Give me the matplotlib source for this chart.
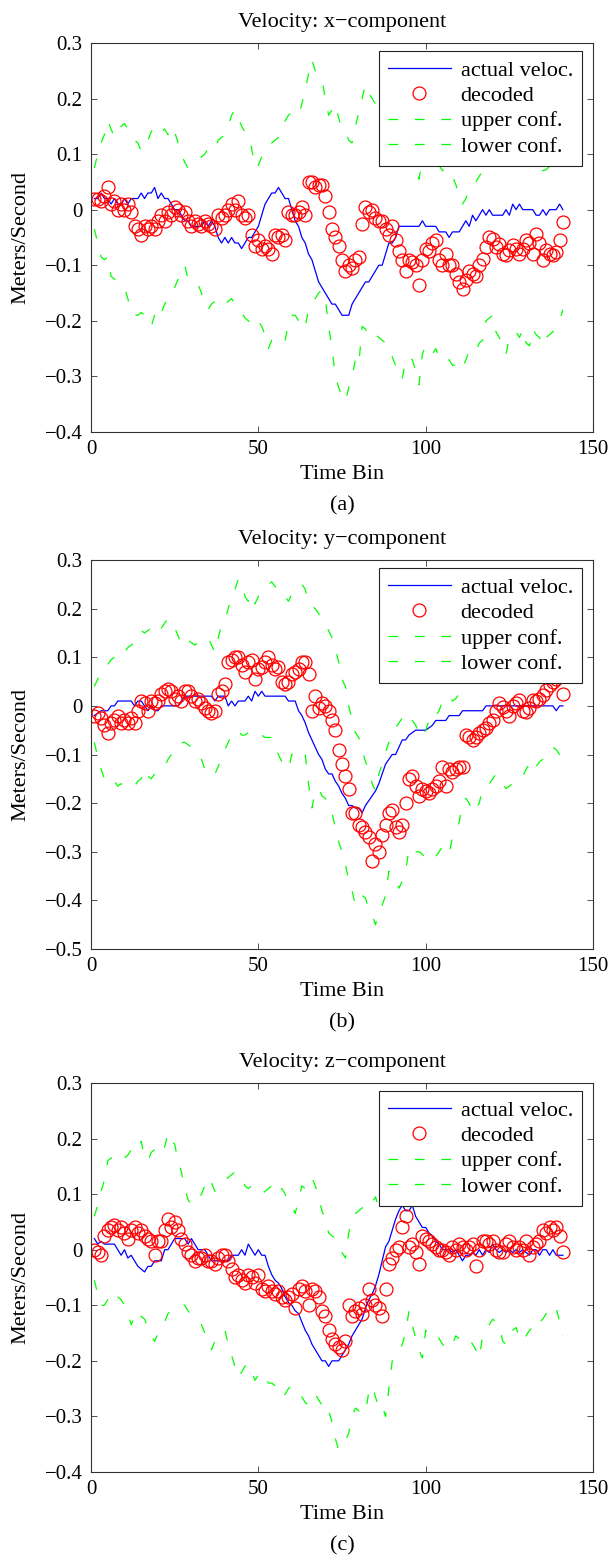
import numpy as np
import matplotlib
matplotlib.use("Agg")
import matplotlib.pyplot as plt
from matplotlib.ticker import FuncFormatter

plt.rcParams['font.family'] = ['Liberation Serif', 'DejaVu Serif']
plt.rcParams['lines.scale_dashes'] = False

# ---- data (time bins 1..141) ----
actual_x = [0.02, 0.02, 0.03, 0.02, 0.02, 0.01, 0.02, 0.01, 0.01, 0.02,
            0.01, 0.02, 0.02, 0.02, 0.03, 0.02, 0.03, 0.03, 0.04, 0.02,
            0.03, 0.02, 0.02, 0.01, 0.0, 0.0, -0.01, -0.02, -0.02, -0.03,
            -0.03, -0.03, -0.03, -0.02, -0.03, -0.02, -0.03, -0.05, -0.06, -0.05,
            -0.06, -0.05, -0.06, -0.06, -0.07, -0.06, -0.05, -0.05, -0.04, -0.03,
            -0.01, 0.01, 0.02, 0.03, 0.03, 0.04, 0.03, 0.02, 0.02, 0.0,
            -0.02, -0.03, -0.05, -0.06, -0.08, -0.09, -0.11, -0.13, -0.14, -0.15,
            -0.16, -0.17, -0.17, -0.18, -0.19, -0.19, -0.19, -0.17, -0.16, -0.15,
            -0.14, -0.13, -0.13, -0.12, -0.11, -0.10, -0.10, -0.08, -0.06, -0.06,
            -0.05, -0.03, -0.03, -0.03, -0.03, -0.03, -0.03, -0.03, -0.02, -0.03,
            -0.03, -0.03, -0.03, -0.04, -0.04, -0.04, -0.05, -0.04, -0.04, -0.04,
            -0.03, -0.02, -0.03, -0.01, -0.02, -0.01, 0.0, -0.01, 0.0, -0.01,
            -0.01, -0.01, -0.01, 0.0, -0.01, 0.01, 0.0, 0.01, 0.0, 0.0,
            0.0, 0.0, -0.01, -0.01, 0.0, -0.01, 0.0, 0.0, 0.0, 0.01,
            0.0]
decoded_x = [0.02, 0.02, 0.015, 0.025, 0.04, 0.01, 0.015, 0.0, 0.01, 0.0,
             0.01, -0.005, -0.03, -0.035, -0.045, -0.03, -0.035, -0.03, -0.035, -0.02,
             -0.01, -0.02, -0.005, -0.01, 0.005, 0.0, -0.01, -0.005, -0.02, -0.03,
             -0.02, -0.025, -0.03, -0.02, -0.025, -0.03, -0.035, -0.01, -0.015, -0.01,
             0.0, 0.01, 0.0, 0.015, -0.01, -0.015, -0.01, -0.045, -0.065, -0.055,
             -0.07, -0.065, -0.07, -0.08, -0.045, -0.05, -0.045, -0.055, -0.005, -0.01,
             -0.01, -0.005, 0.005, -0.01, 0.05, 0.05, 0.04, 0.045, 0.045, 0.025,
             -0.005, -0.035, -0.05, -0.065, -0.09, -0.11, -0.1, -0.105, -0.09, -0.085,
             -0.025, 0.005, -0.005, 0.0, -0.015, -0.02, -0.02, -0.035, -0.045, -0.03,
             -0.055, -0.075, -0.09, -0.11, -0.09, -0.095, -0.1, -0.135, -0.09, -0.07,
             -0.075, -0.06, -0.055, -0.09, -0.1, -0.08, -0.1, -0.1, -0.115, -0.13,
             -0.142, -0.127, -0.11, -0.115, -0.12, -0.1, -0.088, -0.067, -0.05, -0.052,
             -0.067, -0.061, -0.08, -0.082, -0.073, -0.064, -0.07, -0.08, -0.07, -0.055,
             -0.06, -0.08, -0.043, -0.06, -0.09, -0.073, -0.08, -0.082, -0.076, -0.055,
             -0.022]
upper_x = [0.075, 0.1, 0.12, 0.135, 0.16, 0.145, 0.13, 0.14, 0.15, 0.155,
           0.145, 0.13, 0.125, 0.12, 0.105, 0.11, 0.125, 0.14, 0.15, 0.15,
           0.14, 0.145, 0.135, 0.15, 0.14, 0.12, 0.1, 0.085, 0.075, 0.08,
           0.085, 0.09, 0.095, 0.1, 0.11, 0.105, 0.11, 0.125, 0.13, 0.135,
           0.15, 0.17, 0.18, 0.165, 0.15, 0.14, 0.135, 0.11, 0.075, 0.08,
           0.095, 0.105, 0.11, 0.12, 0.125, 0.13, 0.14, 0.16, 0.17, 0.175,
           0.17, 0.17, 0.19, 0.215, 0.245, 0.27, 0.25, 0.24, 0.235, 0.2,
           0.17, 0.18, 0.19, 0.165, 0.145, 0.14, 0.125, 0.12, 0.15, 0.175,
           0.2, 0.225, 0.21, 0.2, 0.19, 0.2, 0.18, 0.17, 0.15, 0.14,
           0.13, 0.12, 0.11, 0.1, 0.09, 0.085, 0.07, 0.055, 0.09, 0.1,
           0.11, 0.1, 0.09, 0.08, 0.07, 0.075, 0.065, 0.06, 0.045, 0.025,
           0.01, 0.02, 0.035, 0.045, 0.05, 0.06, 0.07, 0.075, 0.09, 0.1,
           0.11, 0.12, 0.11, 0.12, 0.12, 0.13, 0.12, 0.11, 0.12, 0.1,
           0.11, 0.09, 0.085, 0.078, 0.07, 0.072, 0.078, 0.08, 0.085, 0.09,
           0.11]
lower_x = [-0.035, -0.06, -0.085, -0.09, -0.085, -0.12, -0.125, -0.13, -0.135, -0.14,
           -0.16, -0.185, -0.19, -0.19, -0.185, -0.19, -0.2, -0.21, -0.19, -0.175,
           -0.185, -0.17, -0.16, -0.15, -0.14, -0.125, -0.115, -0.1, -0.125, -0.13,
           -0.13, -0.135, -0.15, -0.17, -0.18, -0.17, -0.165, -0.16, -0.16, -0.17,
           -0.165, -0.16, -0.17, -0.18, -0.185, -0.195, -0.2, -0.205, -0.21, -0.2,
           -0.21, -0.225, -0.25, -0.235, -0.23, -0.235, -0.24, -0.235, -0.205, -0.19,
           -0.19, -0.2, -0.195, -0.21, -0.18, -0.165, -0.16, -0.15, -0.145, -0.16,
           -0.21, -0.25, -0.3, -0.32, -0.335, -0.345, -0.32, -0.3, -0.27, -0.28,
           -0.21, -0.215, -0.23, -0.225, -0.225, -0.23, -0.235, -0.24, -0.245, -0.265,
           -0.28, -0.3, -0.305, -0.27, -0.265, -0.27, -0.29, -0.315, -0.26, -0.245,
           -0.25, -0.26, -0.25, -0.265, -0.27, -0.275, -0.27, -0.28, -0.28, -0.29,
           -0.285, -0.27, -0.255, -0.25, -0.255, -0.24, -0.235, -0.2, -0.195, -0.19,
           -0.22, -0.23, -0.25, -0.26, -0.23, -0.225, -0.22, -0.23, -0.215, -0.24,
           -0.245, -0.215, -0.225, -0.23, -0.245, -0.23, -0.225, -0.22, -0.21, -0.2,
           -0.18]

actual_y = [-0.02, -0.015, -0.01, -0.01, -0.01, 0.0, 0.0, 0.01, 0.01, 0.01,
            0.01, 0.01, 0.0, 0.01, 0.01, 0.0, -0.01, 0.0, -0.01, -0.01,
            0.0, 0.0, 0.0, 0.0, 0.0, 0.0, 0.01, 0.02, 0.02, 0.02,
            0.02, 0.02, 0.02, 0.02, 0.02, 0.02, 0.01, 0.02, 0.02, 0.02,
            0.0, 0.01, 0.0, 0.01, 0.01, 0.01, 0.02, 0.01, 0.03, 0.02,
            0.03, 0.02, 0.02, 0.02, 0.02, 0.02, 0.02, 0.02, 0.01, 0.01,
            0.01, -0.01, -0.02, -0.035, -0.055, -0.07, -0.085, -0.1, -0.11, -0.13,
            -0.14, -0.14, -0.155, -0.165, -0.18, -0.19, -0.205, -0.205, -0.21, -0.21,
            -0.22, -0.205, -0.195, -0.185, -0.175, -0.16, -0.14, -0.12, -0.11, -0.1,
            -0.1, -0.085, -0.07, -0.07, -0.06, -0.055, -0.05, -0.05, -0.05, -0.05,
            -0.045, -0.04, -0.03, -0.03, -0.03, -0.03, -0.02, -0.02, -0.02, -0.02,
            -0.01, -0.01, -0.01, -0.01, -0.01, -0.01, -0.01, 0.0, 0.0, 0.0,
            0.0, 0.0, 0.0, 0.0, 0.0, 0.0, 0.0, 0.0, 0.0, 0.0,
            0.0, 0.0, 0.0, 0.0, 0.0, 0.0, 0.0, 0.0, -0.01, 0.0,
            0.0]
decoded_y = [-0.02, -0.015, -0.025, -0.04, -0.055, -0.035, -0.03, -0.02, -0.035, -0.03,
             -0.035, -0.025, -0.035, -0.01, 0.01, 0.005, -0.01, 0.01, 0.005, 0.01,
             0.025, 0.03, 0.035, 0.03, 0.015, 0.02, 0.01, 0.03, 0.03, 0.02,
             0.01, 0.015, 0.005, -0.005, -0.01, -0.015, -0.01, 0.025, 0.03, 0.045,
             0.09, 0.095, 0.1, 0.1, 0.085, 0.07, 0.09, 0.095, 0.055, 0.075,
             0.08, 0.09, 0.1, 0.085, 0.075, 0.08, 0.05, 0.045, 0.05, 0.065,
             0.07, 0.075, 0.09, 0.09, 0.065, -0.01, 0.02, -0.005, 0.005, 0.0,
             -0.01, -0.03, -0.05, -0.09, -0.12, -0.145, -0.17, -0.22, -0.22, -0.245,
             -0.25, -0.26, -0.27, -0.32, -0.285, -0.3, -0.265, -0.245, -0.22, -0.215,
             -0.25, -0.26, -0.245, -0.2, -0.15, -0.145, -0.165, -0.185, -0.17, -0.175,
             -0.18, -0.17, -0.165, -0.155, -0.125, -0.165, -0.13, -0.135, -0.13, -0.125,
             -0.125, -0.06, -0.065, -0.07, -0.065, -0.055, -0.05, -0.045, -0.035, -0.03,
             -0.01, 0.005, -0.002, -0.01, -0.02, 0.0, 0.005, 0.012, -0.01, -0.012,
             -0.005, 0.012, 0.01, 0.015, 0.022, 0.032, 0.042, 0.05, 0.055, 0.063,
             0.025]
upper_y = [0.04, 0.055, 0.07, 0.08, 0.085, 0.095, 0.1, 0.095, 0.1, 0.11,
           0.12, 0.125, 0.13, 0.145, 0.155, 0.15, 0.155, 0.16, 0.16, 0.15,
           0.16, 0.17, 0.18, 0.17, 0.16, 0.145, 0.125, 0.125, 0.135, 0.13,
           0.125, 0.13, 0.13, 0.135, 0.14, 0.125, 0.11, 0.14, 0.165, 0.175,
           0.2, 0.225, 0.24, 0.26, 0.255, 0.225, 0.215, 0.23, 0.21, 0.225,
           0.235, 0.24, 0.25, 0.255, 0.245, 0.245, 0.23, 0.225, 0.215, 0.23,
           0.235, 0.245, 0.25, 0.24, 0.21, 0.205, 0.2, 0.19, 0.175, 0.165,
           0.155, 0.14, 0.12, 0.09, 0.055, 0.04, 0.0, -0.03, -0.055, -0.065,
           -0.09, -0.115, -0.13, -0.16, -0.175, -0.14, -0.12, -0.095, -0.075, -0.06,
           -0.045, -0.035, -0.025, -0.02, -0.015, -0.03, -0.04, -0.055, -0.065, -0.05,
           -0.03, -0.035, -0.02, -0.01, 0.01, 0.015, 0.02, 0.01, 0.015, 0.025,
           0.04, 0.06, 0.07, 0.08, 0.085, 0.09, 0.1, 0.1, 0.11, 0.12,
           0.13, 0.13, 0.13, 0.12, 0.13, 0.14, 0.14, 0.14, 0.13, 0.13,
           0.14, 0.15, 0.15, 0.16, 0.16, 0.17, 0.17, 0.18, 0.18, 0.19,
           0.16]
lower_y = [-0.075, -0.105, -0.13, -0.15, -0.16, -0.155, -0.155, -0.165, -0.16, -0.165,
           -0.17, -0.17, -0.165, -0.155, -0.15, -0.13, -0.145, -0.15, -0.14, -0.135,
           -0.13, -0.125, -0.11, -0.1, -0.09, -0.08, -0.075, -0.075, -0.08, -0.085,
           -0.09, -0.1, -0.11, -0.13, -0.14, -0.145, -0.14, -0.125, -0.105, -0.09,
           -0.075, -0.06, -0.055, -0.05, -0.06, -0.06, -0.055, -0.06, -0.065, -0.06,
           -0.06, -0.065, -0.065, -0.065, -0.085, -0.1, -0.115, -0.125, -0.13, -0.1,
           -0.095, -0.09, -0.09, -0.1, -0.16, -0.21, -0.175, -0.17, -0.185, -0.19,
           -0.2, -0.22, -0.25, -0.28, -0.3, -0.325, -0.36, -0.38, -0.41, -0.4,
           -0.39, -0.395, -0.42, -0.43, -0.45, -0.425, -0.41, -0.39, -0.34, -0.35,
           -0.36, -0.375, -0.36, -0.34, -0.295, -0.305, -0.3, -0.3, -0.305, -0.315,
           -0.31, -0.315, -0.31, -0.3, -0.29, -0.3, -0.305, -0.27, -0.255, -0.24,
           -0.2, -0.19, -0.2, -0.22, -0.21, -0.2, -0.17, -0.165, -0.16, -0.15,
           -0.14, -0.15, -0.16, -0.17, -0.165, -0.16, -0.16, -0.15, -0.145, -0.13,
           -0.12, -0.135, -0.125, -0.115, -0.11, -0.095, -0.09, -0.085, -0.09, -0.1,
           -0.105]

actual_z = [0.02, 0.01, 0.015, 0.01, 0.01, 0.01, 0.01, 0.0, -0.01, 0.0,
            -0.015, -0.01, -0.02, -0.03, -0.035, -0.04, -0.03, -0.03, -0.02, -0.02,
            -0.02, 0.0, 0.0, 0.01, 0.02, 0.02, 0.02, 0.02, 0.01, 0.02,
            0.01, 0.0, 0.0, 0.0, -0.01, -0.02, -0.02, -0.02, -0.02, -0.02,
            -0.02, -0.01, -0.01, -0.01, 0.0, -0.01, 0.01, 0.0, -0.01, 0.0,
            -0.01, -0.01, -0.03, -0.045, -0.055, -0.06, -0.07, -0.085, -0.095, -0.1,
            -0.11, -0.115, -0.13, -0.145, -0.155, -0.17, -0.18, -0.19, -0.2, -0.2,
            -0.21, -0.2, -0.2, -0.2, -0.19, -0.18, -0.17, -0.155, -0.145, -0.135,
            -0.125, -0.105, -0.09, -0.08, -0.065, -0.045, -0.02, 0.005, 0.015, 0.035,
            0.055, 0.07, 0.08, 0.07, 0.07, 0.08, 0.06, 0.05, 0.04, 0.04,
            0.03, 0.025, 0.015, 0.01, 0.0, 0.0, 0.0, -0.005, 0.0, -0.01,
            -0.02, -0.01, -0.01, -0.005, -0.01, 0.0, -0.01, 0.0, -0.005, 0.01,
            0.0, -0.005, 0.0, -0.005, 0.0, -0.005, 0.0, -0.005, 0.0, -0.005,
            -0.01, 0.0, 0.0, -0.01, 0.0, 0.0, -0.01, 0.0, -0.01, -0.01,
            -0.01]
decoded_z = [0.0, -0.005, -0.01, 0.025, 0.035, 0.04, 0.045, 0.035, 0.04, 0.03,
             0.02, 0.035, 0.04, 0.03, 0.035, 0.025, 0.02, 0.015, -0.01, 0.015,
             0.015, 0.035, 0.055, 0.04, 0.05, 0.035, 0.02, 0.01, -0.005, -0.01,
             -0.02, -0.015, -0.015, -0.01, -0.02, -0.02, -0.025, -0.015, -0.01, -0.01,
             -0.02, -0.035, -0.05, -0.045, -0.055, -0.06, -0.045, -0.05, -0.06, -0.045,
             -0.07, -0.075, -0.065, -0.075, -0.08, -0.075, -0.085, -0.09, -0.085, -0.08,
             -0.105, -0.07, -0.065, -0.075, -0.1, -0.07, -0.075, -0.085, -0.11, -0.12,
             -0.145, -0.16, -0.17, -0.175, -0.18, -0.165, -0.1, -0.12, -0.11, -0.105,
             -0.115, -0.1, -0.07, -0.09, -0.1, -0.105, -0.12, -0.07, -0.025, -0.015,
             0.0, 0.005, 0.04, 0.06, 0.005, 0.01, -0.005, -0.025, 0.025, 0.02,
             0.015, 0.01, 0.005, 0.0, 0.0, -0.005, -0.01, 0.005, 0.0, 0.01,
             0.005, 0.0, 0.005, 0.01, -0.03, 0.0, 0.015, 0.015, 0.01, 0.015,
             0.0, -0.005, -0.005, 0.01, 0.015, 0.005, 0.0, 0.005, 0.0, 0.015,
             -0.01, 0.005, 0.01, 0.015, 0.035, 0.03, 0.04, 0.035, 0.04, 0.025,
             -0.005]
upper_z = [0.06, 0.08, 0.105, 0.125, 0.16, 0.165, 0.16, 0.165, 0.17, 0.165,
           0.17, 0.18, 0.175, 0.185, 0.195, 0.165, 0.16, 0.175, 0.18, 0.17,
           0.18, 0.185, 0.21, 0.195, 0.19, 0.16, 0.14, 0.11, 0.09, 0.08,
           0.085, 0.09, 0.1, 0.115, 0.13, 0.12, 0.105, 0.11, 0.12, 0.125,
           0.13, 0.135, 0.14, 0.135, 0.13, 0.115, 0.11, 0.115, 0.11, 0.105,
           0.1, 0.105, 0.11, 0.115, 0.105, 0.1, 0.11, 0.1, 0.085, 0.08,
           0.065, 0.09, 0.115, 0.11, 0.125, 0.13, 0.115, 0.095, 0.07, 0.055,
           0.03, 0.025, 0.02, 0.005, -0.005, -0.015, 0.03, 0.055, 0.065, 0.07,
           0.075, 0.08, 0.09, 0.085, 0.095, 0.075, 0.07, 0.09, 0.11, 0.13,
           0.15, 0.16, 0.17, 0.18, 0.2, 0.19, 0.17, 0.16, 0.15, 0.14,
           0.14, 0.13, 0.13, 0.14, 0.13, 0.12, 0.13, 0.12, 0.13, 0.12,
           0.12, 0.13, 0.12, 0.13, 0.12, 0.13, 0.14, 0.13, 0.14, 0.13,
           0.13, 0.12, 0.13, 0.14, 0.13, 0.12, 0.13, 0.14, 0.13, 0.12,
           0.13, 0.14, 0.14, 0.15, 0.16, 0.15, 0.16, 0.17, 0.17, 0.16,
           0.14]
lower_z = [-0.055, -0.08, -0.1, -0.1, -0.09, -0.085, -0.075, -0.085, -0.09, -0.1,
           -0.115, -0.135, -0.12, -0.11, -0.12, -0.125, -0.14, -0.155, -0.165, -0.15,
           -0.14, -0.13, -0.115, -0.11, -0.105, -0.105, -0.1, -0.1, -0.11, -0.12,
           -0.125, -0.13, -0.135, -0.15, -0.16, -0.18, -0.165, -0.155, -0.15, -0.145,
           -0.17, -0.19, -0.21, -0.23, -0.22, -0.21, -0.205, -0.22, -0.235, -0.225,
           -0.22, -0.23, -0.24, -0.24, -0.245, -0.25, -0.265, -0.26, -0.25, -0.245,
           -0.255, -0.26, -0.265, -0.275, -0.28, -0.27, -0.26, -0.27, -0.28, -0.275,
           -0.29, -0.31, -0.34, -0.36, -0.35, -0.345, -0.33, -0.3, -0.285, -0.29,
           -0.29, -0.295, -0.255, -0.245, -0.265, -0.285, -0.28, -0.3, -0.25, -0.2,
           -0.195, -0.185, -0.17, -0.15, -0.11, -0.135, -0.16, -0.18, -0.195, -0.145,
           -0.15, -0.145, -0.155, -0.16, -0.17, -0.175, -0.18, -0.17, -0.155, -0.16,
           -0.16, -0.155, -0.16, -0.17, -0.18, -0.195, -0.155, -0.14, -0.135, -0.125,
           -0.13, -0.135, -0.165, -0.17, -0.165, -0.145, -0.14, -0.16, -0.165, -0.155,
           -0.145, -0.14, -0.145, -0.13, -0.125, -0.115, -0.105, -0.1, -0.105, -0.13,
           -0.155]

components = ["x", "y", "z"]
y_bottoms = [-0.4, -0.5, -0.4]
captions = ["(a)", "(b)", "(c)"]
series = [(actual_x, decoded_x, upper_x, lower_x),
          (actual_y, decoded_y, upper_y, lower_y),
          (actual_z, decoded_z, upper_z, lower_z)]


def tick_label(v, pos):
    if abs(v) < 1e-9:
        return "0"
    return ("%.1f" % v).replace("-", "\u2212")


fig = plt.figure(figsize=(6.10, 15.56), dpi=100)
bottoms = [0.7224, 0.3901, 0.0540]

for i in range(3):
    actual, decoded, upper, lower = series[i]
    ax = fig.add_axes([0.1492, bottoms[i], 0.823, 0.25])

    ax.plot(np.arange(1, len(actual) + 1), actual, color=(0, 0, 1), lw=0.9,
            label="actual veloc.")
    ax.plot(np.arange(1, len(decoded) + 1), decoded, "o", mfc="none", mec=(1, 0, 0),
            ms=9.3, mew=0.9, label="decoded")
    ax.plot(np.arange(1, len(upper) + 1), upper, color=(0, 1, 0), lw=0.9,
            dashes=(7, 12), label="upper conf.")
    ax.plot(np.arange(1, len(lower) + 1), lower, color=(0, 1, 0), lw=0.9,
            dashes=(7, 12), label="lower conf.")

    ax.set_xlim(0, 150)
    ax.set_ylim(y_bottoms[i], 0.3)
    ax.set_xticks([0, 50, 100, 150])
    ax.set_yticks(np.round(np.arange(y_bottoms[i], 0.31, 0.1), 1))
    ax.yaxis.set_major_formatter(FuncFormatter(tick_label))
    ax.tick_params(direction="in", length=4, width=0.6, top=True, right=True,
                   labelsize=15, color="#333333")
    ax.tick_params(axis="x", pad=6)
    ax.tick_params(axis="y", pad=6)
    for s in ax.spines.values():
        s.set_linewidth(0.8)
        s.set_color("#333333")

    ax.set_title("Velocity: %s\u2212component" % components[i], fontsize=16, pad=11.5)
    ax.set_xlabel("Time Bin", fontsize=16)
    ax.set_ylabel("Meters/Second", fontsize=16)
    ax.xaxis.set_label_coords(0.5, -0.084)
    ax.yaxis.set_label_coords(-0.12, 0.5)
    ax.text(0.5, -0.19, captions[i], transform=ax.transAxes, ha="center",
            va="center", fontsize=16)

    # 7+12+7+12+7 = 45 pt handle -> three whole dashes like the reference
    leg = ax.legend(loc="upper right", bbox_to_anchor=(0.978, 0.979), borderaxespad=0,
                    fontsize=16, handlelength=45 / 16, handletextpad=0.45,
                    labelspacing=0.22, borderpad=0.4, fancybox=False,
                    framealpha=1, edgecolor="#222222", numpoints=1)
    leg.get_frame().set_linewidth(0.8)

fig.savefig("out.png", dpi=100, facecolor="white")
